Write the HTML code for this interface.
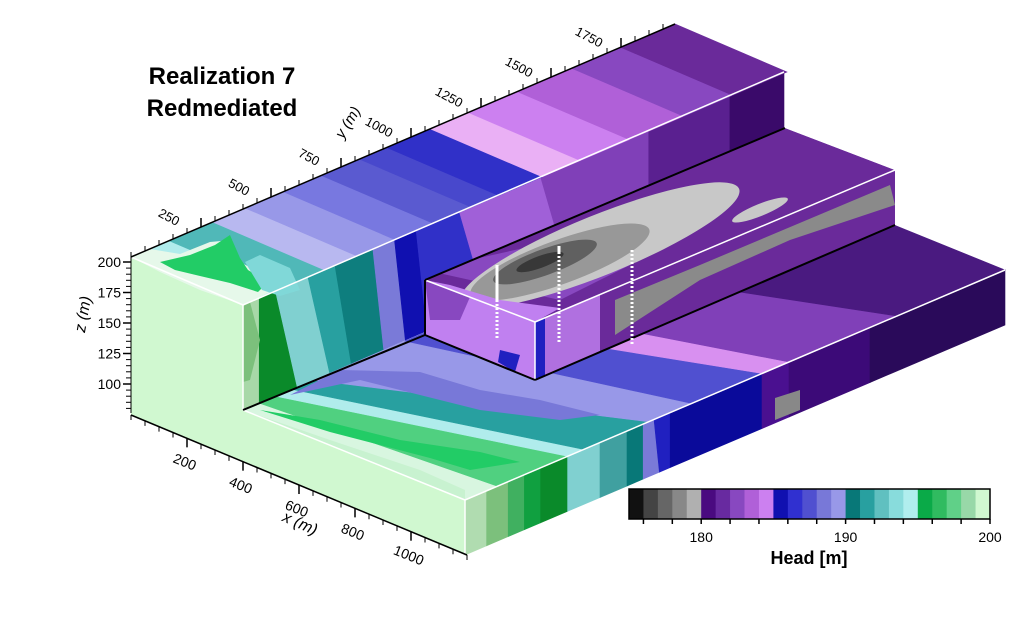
<!DOCTYPE html>
<html><head><meta charset="utf-8"><style>
html,body{margin:0;padding:0;background:#fff;}
svg{display:block;font-family:"Liberation Sans",Arial,sans-serif;}
</style></head><body>
<svg id="chart" width="1018" height="621" viewBox="0 0 1018 621" xmlns="http://www.w3.org/2000/svg">
<defs>
<clipPath id="clipMidTop"><polygon points="425,280 535,322 895,170 785,128"/></clipPath>
<clipPath id="clipMidFront"><polygon points="535,322 895,170 895,225 535,380"/></clipPath>
<clipPath id="clipMidLeft"><polygon points="425,280 535,322 535,380 425,335"/></clipPath>
</defs>
<g id="faces"></g>
<g id="axes"></g>
<g id="cbar"></g>
<text x="222" y="84" font-size="24" font-weight="bold" text-anchor="middle">Realization 7</text>
<text x="222" y="116" font-size="24" font-weight="bold" text-anchor="middle">Redmediated</text>
</svg>
<script>
// ---- colorbar data ----
const cbStart = 175;
const cbStep = 1;
const cbColors = ["#111111","#444444","#666666","#888888","#b0b0b0","#4a0a80","#682aa0","#8848c0","#b060d8","#cc80f0","#1010b0","#3030d0","#5050d0","#7878d8","#9898e8","#087878","#28a0a0","#60c0c0","#88dcdc","#b0eeee","#0aaa48","#30bb60","#60d088","#98d8a8","#d0f8d0"];
const cbTickLabels = [180,190,200];
const cbMinorTicks = [176,178,180,182,184,186,188,190,192,194,196,198,200];
// ---- axis data ----
const zTicks = [100,125,150,175,200];
const xTicks = [200,400,600,800,1000];
const yTicks = [250,500,750,1000,1250,1500,1750];

const NS="http://www.w3.org/2000/svg";
function mk(parent,tag,attrs){const e=document.createElementNS(NS,tag);for(const k in attrs)e.setAttribute(k,attrs[k]);parent.appendChild(e);return e;}
const F=document.getElementById('faces');
function P(O,U,V,t,v){return [O[0]+U[0]*t+V[0]*v,O[1]+U[1]*t+V[1]*v];}
function bands(g,O,U,V,bounds,colors,name,clip){
  const grp=mk(g,'g',{});
  if(clip) grp.setAttribute('clip-path','url(#'+clip+')');
  
  
  for(let i=0;i<colors.length;i++){
    const a=bounds[i],b=bounds[i+1];
    const pts=[P(O,U,V,a[0],0),P(O,U,V,b[0],0),P(O,U,V,b[1],1),P(O,U,V,a[1],1)];
    const p=mk(grp,'polygon',{points:pts.map(q=>q.join(',')).join(' '),fill:colors[i],stroke:colors[i],'stroke-width':0.6});
    
    
  }
  return grp;
}
function poly(g,pts,fill,name,extra){const p=mk(g,'polygon',Object.assign({points:pts,fill:fill},extra||{}));return p;}

// slab top face
bands(F,[243,410],[540,-230],[222,90],
 [[0,0],[0.03,0.06],[0.06,0.19],[0.09,0.22],[0.13,0.34],[0.3,0.42],[0.38,0.55],[0.46,0.6],[0.62,0.8],[1,1]],
 ["#d8f6e0","#50d080","#b0ecec","#28a0a0","#9898e8","#5050d0","#d890f0","#8040b8","#4a1a80"],"slab-top-face");
poly(F,"243,410 330,440 420,470 465,490 465,500 243,410","#c8f2d0","slab-top-front-strip");
poly(F,"260,410 330,432 430,458 470,470 520,462 480,452 400,440 320,420","#22cc66","slab-green-band");
poly(F,"290,395 360,380 420,395 480,410 560,420 600,415 540,400 480,390 420,372 340,370","#7878d8","slab-blue-tongue");
// slab front face
bands(F,[465,500],[540,-230],[0,55],
 [[0,0],[0.04,0.04],[0.08,0.08],[0.11,0.11],[0.14,0.14],[0.19,0.19],[0.25,0.25],[0.3,0.3],[0.33,0.33],[0.35,0.36],[0.38,0.38],[0.55,0.55],[0.6,0.6],[0.75,0.75],[1,1]],
 ["#b0dcb0","#7cc07c","#40b060","#10a040","#0a8a2a","#80d0d0","#40a0a0","#087878","#7a7ad8","#2020c0","#0a0a9a","#4a1090","#3c0a78","#2a0a5a"],"slab-front-face");
poly(F,"775,398 800,390 800,410 775,420","#888888","slab-front-gray-patch");
// left face (L-shaped)
poly(F,"131,257 243,305 243,410 465,500 465,555 131,415","#d0f8d0","left-face");
// top level x-max face
bands(F,[243,305],[541,-233],[0,105],
 [[0,0],[0.03,0.03],[0.06,0.1],[0.12,0.16],[0.17,0.2],[0.24,0.26],[0.28,0.3],[0.32,0.34],[0.4,0.45],[0.55,0.6],[0.75,0.75],[0.9,0.9],[1,1]],
 ["#a8d8a8","#0a8a2a","#80d0d0","#28a0a0","#0e7e7e","#7a7ad8","#1010b0","#3030c8","#a060d8","#8040b8","#5a2090","#3a0a6a"],"top-level-side-face");
poly(F,"243,305 250,302 260,340 250,380 243,382","#7cc07c","side-green-edge");
// top face of top level
bands(F,[131,257],[544,-233],[112,48],
 [[0,0],[0.07,0.07],[0.15,0.15],[0.21,0.21],[0.28,0.28],[0.35,0.35],[0.42,0.42],[0.47,0.47],[0.55,0.55],[0.62,0.62],[0.71,0.71],[0.81,0.81],[0.9,0.9],[1,1]],
 ["#b0ecec","#50b8b8","#b8b8f0","#9898e8","#7878e0","#5a5ad0","#4848cc","#3030c8","#eab0f5","#cc80f0","#b060d8","#8848c0","#6a2a9a"],"top-face");
poly(F,"131,257 150,249 180,254 210,242 232,240 240,262 270,278 270,292 243,305 200,290 160,272","#e6f8ea","top-face-light-green");
poly(F,"160,262 190,255 215,245 230,235 240,258 248,270 268,282 258,292 230,283 200,276 175,270","#22cc66","top-face-green-blob");
poly(F,"245,262 260,255 290,268 300,290 280,296 262,290","#80d8d8","top-face-teal-blob");
// middle block top face
const MT=mk(F,'g',{'clip-path':'url(#clipMidTop)'});


poly(MT,"425,280 535,322 895,170 785,128","#6a2a9a","middle-top-base");
poly(MT,"425,270 560,300 660,250 700,220 560,240","#8848c0","middle-top-purple");
mk(MT,'ellipse',{cx:600,cy:245,rx:150,ry:30,transform:'rotate(-22 600 245)',fill:'#c8c8c8'});
mk(MT,'ellipse',{cx:560,cy:262,rx:95,ry:22,transform:'rotate(-20 560 262)',fill:'#989898'});
mk(MT,'ellipse',{cx:545,cy:262,rx:55,ry:13,transform:'rotate(-20 545 262)',fill:'#606060'});
mk(MT,'ellipse',{cx:540,cy:262,rx:25,ry:6,transform:'rotate(-20 540 262)',fill:'#383838'});
mk(MT,'ellipse',{cx:760,cy:210,rx:30,ry:6,transform:'rotate(-22 760 210)',fill:'#c8c8c8'});
poly(MT,"425,280 470,300 535,322 560,308 500,300 450,285","#c080f0","middle-top-pink-edge");
// middle x-max face
const MF=mk(F,'g',{'clip-path':'url(#clipMidFront)'});


poly(MF,"535,322 895,170 895,225 535,380","#6a2a9a","middle-front-base");
poly(MF,"535,322 600,295 600,355 535,380","#b070e0","middle-front-pink");
poly(MF,"615,300 700,265 890,185 895,205 790,240 700,280 615,335","#8a8a8a","middle-front-gray-band");
poly(MF,"535,322 545,318 545,378 535,380","#2020c0","middle-front-blue-edge");
// middle y-min face
const ML=mk(F,'g',{'clip-path':'url(#clipMidLeft)'});


poly(ML,"425,280 535,322 535,380 425,335","#c080f0","middle-left-base");
poly(ML,"425,280 470,297 460,320 430,320","#8848c0","middle-left-purple");
poly(ML,"500,350 520,355 515,372 498,362","#2020c0","middle-left-blue");
// edges
function ln(g,x1,y1,x2,y2,c,w,name){const l=mk(g,'line',{x1,y1,x2,y2,stroke:c,'stroke-width':w});}
ln(F,131,257,243,305,'#fff',1.5,'edge');ln(F,243,305,784,72,'#fff',1.5,'edge');
ln(F,243,305,243,410,'#fff',1.5,'edge');ln(F,243,410,465,500,'#fff',1.5,'edge');
ln(F,465,500,1005,270,'#fff',1.5,'edge');ln(F,465,500,465,555,'#fff',1.5,'edge');
ln(F,425,280,535,322,'#fff',1.5,'edge');ln(F,535,322,895,170,'#fff',1.5,'edge');ln(F,535,322,535,380,'#fff',1.5,'edge');
ln(F,243,410,425,335,'#000',2,'edge');ln(F,425,280,425,335,'#000',2,'edge');ln(F,425,335,535,380,'#000',2,'edge');
ln(F,535,380,895,225,'#000',2,'edge');ln(F,425,280,785,128,'#000',2,'edge');
// wells
ln(F,497,265,497,300,'#fff',3,'well-1');ln(F,497,300,497,340,'#fff',3,'well-1-screen');
F.lastChild.setAttribute('stroke-dasharray','2,2');
ln(F,559,246,559,252,'#fff',3,'well-2');ln(F,559,252,559,342,'#fff',3,'well-2-screen');
F.lastChild.setAttribute('stroke-dasharray','2,2');
ln(F,632,250,632,346,'#fff',3,'well-3-screen');
F.lastChild.setAttribute('stroke-dasharray','2,2');

// ---- axes ----
const A=document.getElementById('axes');
// z axis: z value -> y pixel
function zY(z){return 384-(z-100)*30.5/25;}
ln(A,131,257,131,413,'#000',1,'z-axis-line');
for(let z=80;z<=200;z+=5){ln(A,126,zY(z),131,zY(z),'#000',1,'z-minor-tick');}
zTicks.forEach(z=>{
  ln(A,123,zY(z),131,zY(z),'#000',1.5,'z-major-tick');
  const t=mk(A,'text',{x:121,y:zY(z)+5,'font-size':14,'text-anchor':'end'});t.textContent=z;
  
  
});
const zt=mk(A,'text',{x:88,y:315,'font-size':16,'font-style':'italic','text-anchor':'middle',transform:'rotate(-80 88 315)'});zt.textContent='z (m)';


// x axis along (131,415)->(467,555)
function xP(x){return [131+x*0.28,415+x*0.1167];}
ln(A,131,415,467,555,'#000',1.5,'x-axis-line');
for(let x=0;x<=1200;x+=50){const p=xP(x);ln(A,p[0],p[1],p[0],p[1]+5,'#000',1,'x-minor-tick');}
xTicks.forEach(x=>{
  const p=xP(x);ln(A,p[0],p[1],p[0],p[1]+9,'#000',1.5,'x-major-tick');
  const t=mk(A,'text',{x:p[0]-4,y:p[1]+28,'font-size':14,'text-anchor':'middle',transform:`rotate(22 ${p[0]-4} ${p[1]+28})`});t.textContent=x;
  
  
});
const xt=mk(A,'text',{x:298,y:528,'font-size':16,'font-style':'italic','text-anchor':'middle',transform:'rotate(24 298 528)'});xt.textContent='x (m)';


// y axis along (131,257)->(675,24)
function yP(y){return [131+y*0.2800,257-y*0.1200];}
ln(A,131,257,675,24,'#000',1.5,'y-axis-line');
for(let y=0;y<=1940;y+=50){const p=yP(y);ln(A,p[0],p[1],p[0],p[1]-5,'#000',1,'y-minor-tick');}
yTicks.forEach(y=>{
  const p=yP(y);ln(A,p[0],p[1],p[0],p[1]-9,'#000',1.5,'y-major-tick');
  const lx=p[0]-34,ly=p[1]-6;
  const t=mk(A,'text',{x:lx,y:ly,'font-size':13,'text-anchor':'middle',transform:`rotate(28 ${lx} ${ly})`});t.textContent=y;
  
  
});
const yt=mk(A,'text',{x:352,y:125,'font-size':15,'font-style':'italic','text-anchor':'middle',transform:'rotate(-58 352 125)'});yt.textContent='y (m)';



// ---- colorbar ----
const C=document.getElementById('cbar');
const cbX0=629,cbX1=990,cbY=489,cbH=30;
const cbMax=cbStart+cbStep*cbColors.length;
function cbx(v){return cbX0+(v-cbStart)/(cbMax-cbStart)*(cbX1-cbX0);}
cbColors.forEach((c,i)=>{
  const v=cbStart+i*cbStep;
  const r=mk(C,'rect',{x:cbx(v),y:cbY,width:cbx(v+cbStep)-cbx(v)+0.4,height:cbH,fill:c});
  
  
});
const fr=mk(C,'rect',{x:cbX0,y:cbY,width:cbX1-cbX0,height:cbH,fill:'none',stroke:'#000','stroke-width':1.5});


cbMinorTicks.forEach(v=>{ln(C,cbx(v),cbY+cbH,cbx(v),cbY+cbH+5,'#000',1.5,'colorbar-tick');});
cbTickLabels.forEach(v=>{
  const t=mk(C,'text',{x:cbx(v),y:542,'font-size':14,'text-anchor':'middle'});t.textContent=v;
  
  
});
const ct=mk(C,'text',{x:809,y:564,'font-size':18,'font-weight':'bold','text-anchor':'middle'});ct.textContent='Head [m]';


</script>
</body></html>
